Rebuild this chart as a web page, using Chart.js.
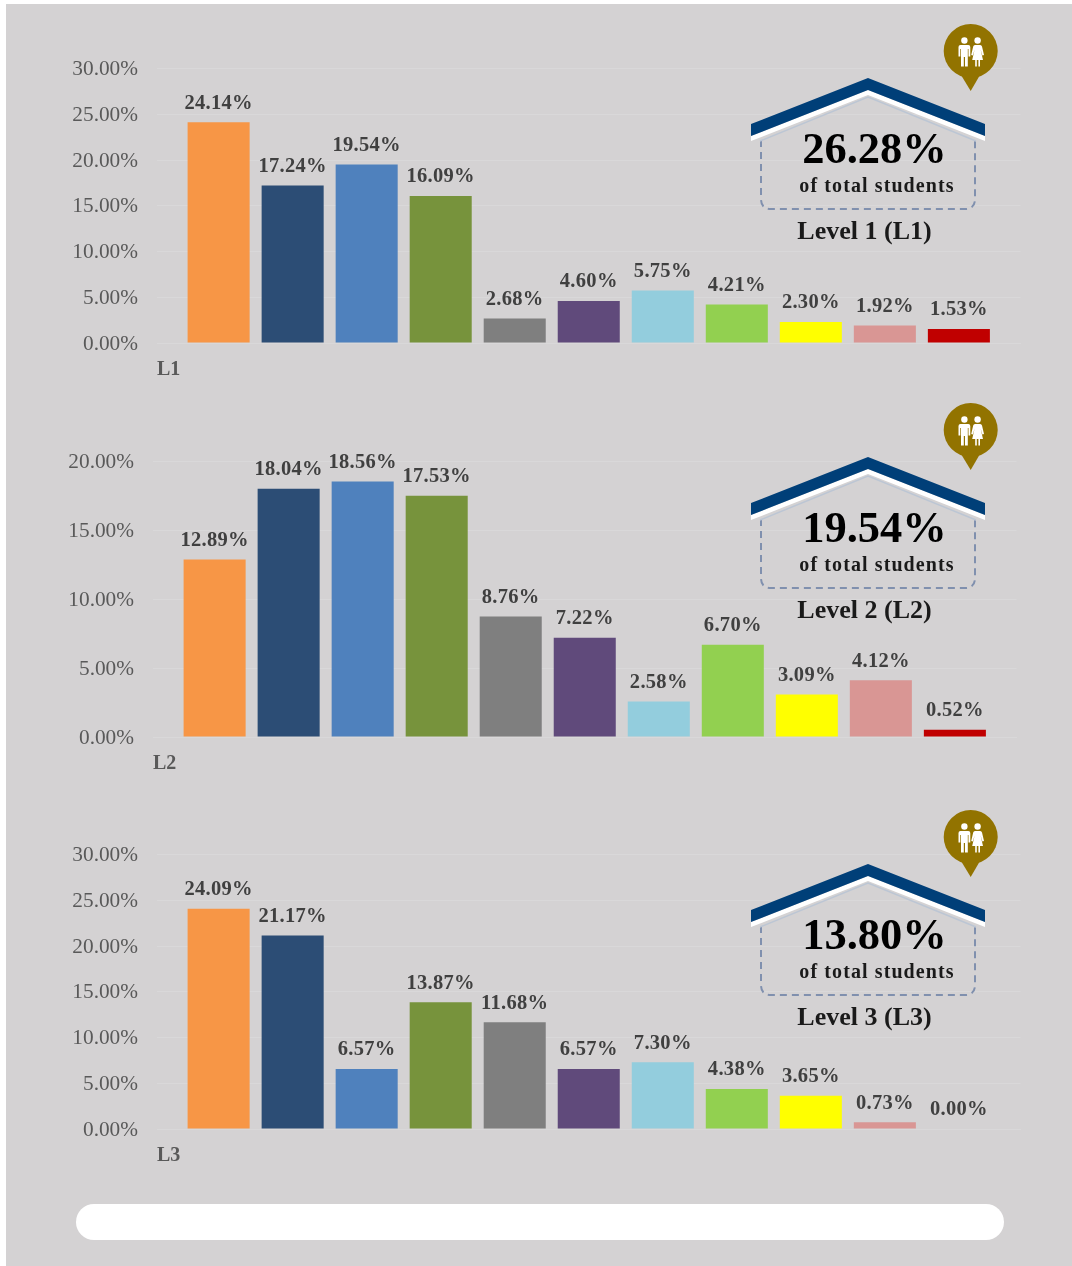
<!DOCTYPE html>
<html>
<head>
<meta charset="utf-8">
<script src="https://cdn.jsdelivr.net/npm/chart.js@4/dist/chart.umd.js"></script>
<style>
html,body{margin:0;padding:0;background:#fff;width:1072px;height:1266px;overflow:hidden}
#panel{position:absolute;left:6px;top:4px;width:1066px;height:1262px;background:#d4d2d3}
#pill{position:absolute;left:76px;top:1204px;width:928px;height:36px;border-radius:18px;background:#fff}
canvas{position:absolute;display:block}
svg{position:absolute;left:0;top:0}
</style>
</head>
<body>
<div id="panel"></div>
<div id="pill"></div>
<canvas id="c1"></canvas>
<canvas id="c2"></canvas>
<canvas id="c3"></canvas>
<svg id="ov" width="1072" height="1266" xmlns="http://www.w3.org/2000/svg"></svg>
<script>
const seriesColors = ['#f79646','#2c4d75','#4f81bd','#77933c','#7f7f7f','#604a7b','#93cddd','#92d050','#ffff00','#d99694','#c00000'];
const l1Values = [24.14,17.24,19.54,16.09,2.68,4.60,5.75,4.21,2.30,1.92,1.53];
const l2Values = [12.89,18.04,18.56,17.53,8.76,7.22,2.58,6.70,3.09,4.12,0.52];
const l3Values = [24.09,21.17,6.57,13.87,11.68,6.57,7.30,4.38,3.65,0.73,0.00];
const shares = ['26.28%','19.54%','13.80%'];
const levelNames = ['Level 1 (L1)','Level 2 (L2)','Level 3 (L3)'];
const SERIF = '"Liberation Serif"';

const valueLabels = {
  id:'valueLabels',
  afterDatasetsDraw(chart){
    const ctx = chart.ctx;
    ctx.save();
    ctx.font = 'bold 20.5px '+SERIF;
    ctx.letterSpacing = '0.3px';
    ctx.fillStyle = '#404040';
    ctx.textAlign = 'center';
    ctx.textBaseline = 'middle';
    chart.data.datasets.forEach((d,i)=>{
      const el = chart.getDatasetMeta(i).data[0];
      ctx.fillText(d.data[0].toFixed(2)+'%', el.x, el.y-19);
    });
    ctx.restore();
  }
};

function makeChart(id, label, values, yMax, top, plotH, plotLeft, plotRight){
  const cv = document.getElementById(id);
  const padTop = 28, extra = 3, bottom = 47;
  cv.width = 1072; cv.height = padTop+extra+plotH+bottom;
  cv.style.left='0px'; cv.style.top=(top-padTop-extra)+'px';
  new Chart(cv,{
    type:'bar',
    data:{labels:[label],datasets:values.map((v,i)=>({data:[v],backgroundColor:seriesColors[i],borderWidth:0}))},
    plugins:[valueLabels],
    options:{
      responsive:false,animation:false,
      layout:{padding:{top:padTop,right:1072-plotRight,left:0,bottom:0}},
      categoryPercentage:0.943,barPercentage:0.838,
      plugins:{legend:{display:false},tooltip:{enabled:false}},
      scales:{
        x:{
          grid:{display:false},border:{color:'#d9d8d9',width:1},
          afterFit(s){s.height=bottom;},
          ticks:{display:false},
          title:{display:true,text:label,align:'start',padding:{top:0,bottom:8.5},color:'#595959',font:{family:SERIF,size:20,weight:'bold'}}
        },
        y:{
          min:0,max:yMax,
          border:{display:false},
          grid:{color:'#d9d8d9',drawTicks:false},
          afterFit(s){s.width=plotLeft;},
          ticks:{stepSize:5,padding:19,labelOffset:1,color:'#595959',font:{family:SERIF,size:21.3},callback:v=>v.toFixed(2)+'%'}
        }
      }
    }
  });
}
makeChart('c1','L1',l1Values,30,68,275,157,1020.5);
makeChart('c2','L2',l2Values,20,461,276,153,1016.5);
makeChart('c3','L3',l3Values,30,854,275,157,1020.5);

// overlay: house badge and pin
const offsets=[0,379,786];
let svg='';
offsets.forEach((o,i)=>{
  svg+=`<g transform="translate(0,${o})">
  <path d="M761 140V199Q761 209 771 209H965Q975 209 975 199V140" fill="none" stroke="#8090ae" stroke-width="2" stroke-dasharray="7 5"/>
  <polygon points="751,136 868,90 985,136 985,141 868,95 751,141" fill="#fff"/>
  <polyline points="760,141 868,97 976,141" fill="none" stroke="#bcc6d4" stroke-width="1.5"/>
  <polygon points="868,78 985,124 985,136 868,90 751,136 751,124" fill="#003f78"/>
  <text x="874.5" y="163" text-anchor="middle" font-family='"Liberation Serif"' font-weight="bold" font-size="44.5" fill="#000">${shares[i]}</text>
  <text x="877" y="192" text-anchor="middle" font-family='"Liberation Serif"' font-weight="bold" font-size="20" letter-spacing="1.1" fill="#1a1a1a">of total students</text>
  <text x="864.5" y="239" text-anchor="middle" font-family='"Liberation Serif"' font-weight="bold" font-size="26" fill="#1a1a1a">${levelNames[i]}</text>
  <circle cx="970.7" cy="51" r="27" fill="#927300"/>
  <polygon points="961,75 980,75 970.7,91" fill="#927300"/>
  <g fill="#fff">
    <circle cx="964.4" cy="40.5" r="3.2"/>
    <path d="M958.5 47Q958.5 45 960.5 45H968.3Q970.3 45 970.3 47V56.5H968.5V49H967.8V66.5H965V57H963.8V66.5H961V49H960.3V56.5H958.5Z"/>
    <circle cx="977.6" cy="40.5" r="3.2"/>
    <path d="M975 45H980.2Q981.6 45 982 46.5L984 55L982.4 55.5L980.6 49.5L983 60H980V66.5H978.4V60H976.8V66.5H975.2V60H972.2L974.6 49.5L972.8 55.5L971.2 55L973.2 46.5Q973.6 45 975 45Z"/>
  </g>
  </g>`;
});
document.getElementById('ov').innerHTML=svg;
</script>
</body>
</html>
